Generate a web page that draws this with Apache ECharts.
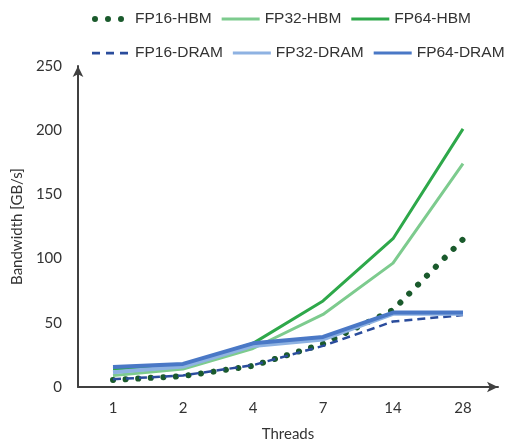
<!DOCTYPE html>
<html>
<head>
<meta charset="utf-8">
<script src="https://cdn.jsdelivr.net/npm/echarts@6/dist/echarts.min.js"></script>
<style>
  html, body { margin: 0; padding: 0; background: #fff; }
  #chart { width: 513px; height: 444px; }
</style>
</head>
<body>
<div id="chart"></div>
<script>
// Thread counts on the x axis
const threads = ['1', '2', '4', '7', '14', '28'];

// Measured bandwidth in GB/s
const fp16Hbm  = [5.5, 8.5, 16.5, 33.5, 60, 115];
const fp32Hbm  = [9, 14, 30, 56.5, 96.5, 174];
const fp64Hbm  = [14, 17, 34, 67, 115.5, 201];
const fp16Dram = [6, 9, 17, 32, 51, 56];
const fp32Dram = [11.5, 16, 32, 37, 57, 57];
const fp64Dram = [15.5, 18, 34, 39, 58, 58];

const FONT = 'Lato';
const LEGEND_FONT = 'Liberation Sans';
const TEXT = '#333333';
const AXIS = '#404040';

// Legend glyphs drawn in a 38x14 box; the zero-area corner points pin the box size
const BOX = 'M0,0L0,0Z M38,14L38,14Z ';
function dot(cx) {
  return 'M' + (cx - 3) + ',7 a3,3 0 1,0 6,0 a3,3 0 1,0 -6,0 Z ';
}
const ICON_DOTS = 'path://' + BOX + dot(3) + dot(16) + dot(29);
const ICON_DASH = 'path://' + BOX + 'M0,5.8h8v2.6h-8Z M14,5.8h8v2.6h-8Z M28,5.8h8v2.6h-8Z';
const ICON_SOLID = 'path://' + BOX + 'M0,5.5h38v3h-38Z';

function line(name, data, color, width, type, cap) {
  return {
    name: name,
    type: 'line',
    data: data,
    symbol: 'none',
    smooth: false,
    lineStyle: { color: color, width: width, type: type || 'solid', cap: cap || 'butt', join: 'round' },
    itemStyle: { color: color }
  };
}

function legendRow(top, items) {
  return {
    top: top,
    left: 87,
    orient: 'horizontal',
    itemWidth: 38,
    itemHeight: 14,
    itemGap: 10,
    data: items,
    textStyle: { fontFamily: LEGEND_FONT, fontSize: 15.5, color: TEXT, width: 90 }
  };
}

const chart = echarts.init(document.getElementById('chart'), null, { renderer: 'canvas' });
chart.setOption({
  animation: false,
  backgroundColor: '#ffffff',
  legend: [
    legendRow(6, [
      { name: 'FP16-HBM', icon: ICON_DOTS },
      { name: 'FP32-HBM', icon: ICON_SOLID },
      { name: 'FP64-HBM', icon: ICON_SOLID }
    ]),
    legendRow(40, [
      { name: 'FP16-DRAM', icon: ICON_DASH },
      { name: 'FP32-DRAM', icon: ICON_SOLID },
      { name: 'FP64-DRAM', icon: ICON_SOLID }
    ])
  ],
  grid: { left: 78, right: 15, top: 66, bottom: 57, containLabel: false, outerBoundsMode: 'none' },
  xAxis: {
    type: 'category',
    data: threads,
    boundaryGap: true,
    name: 'Threads',
    nameLocation: 'middle',
    nameGap: 40,
    nameTextStyle: { fontFamily: FONT, fontSize: 15, color: TEXT },
    axisLine: { show: true, symbol: ['none', 'arrow'], symbolSize: [8, 11], lineStyle: { color: AXIS, width: 2 } },
    axisTick: { show: false },
    axisLabel: { fontFamily: FONT, fontSize: 15, color: TEXT, margin: 14 },
    splitLine: { show: false }
  },
  yAxis: {
    type: 'value',
    min: 0,
    max: 250,
    interval: 50,
    name: 'Bandwidth [GB/s]',
    nameLocation: 'middle',
    nameRotate: 90,
    nameGap: 44,
    nameTextStyle: { fontFamily: FONT, fontSize: 15, color: TEXT },
    axisLine: { show: true, symbol: ['none', 'arrow'], symbolSize: [8, 11], lineStyle: { color: AXIS, width: 2 } },
    axisTick: { show: false },
    axisLabel: { fontFamily: FONT, fontSize: 15, color: TEXT, margin: 16 },
    splitLine: { show: false }
  },
  series: [
    line('FP32-HBM', fp32Hbm, '#7dcb8e', 3),
    line('FP64-HBM', fp64Hbm, '#2ea84a', 3),
    line('FP16-HBM', fp16Hbm, '#1a5a2c', 6, [0.1, 12.5], 'round'),
    line('FP16-DRAM', fp16Dram, '#2a4c9c', 2.5, [8, 5]),
    line('FP32-DRAM', fp32Dram, '#8eb2e2', 4),
    line('FP64-DRAM', fp64Dram, '#4a78c6', 4)
  ]
});
</script>
</body>
</html>
